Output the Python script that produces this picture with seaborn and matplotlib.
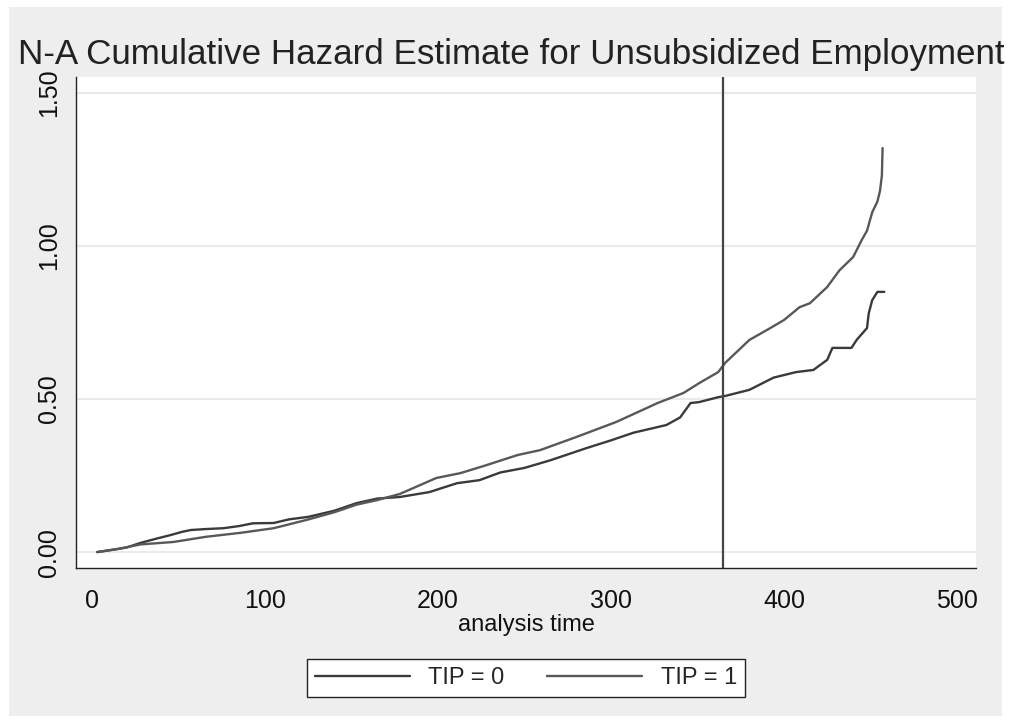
import numpy as np
import pandas as pd
import seaborn as sns
import matplotlib.pyplot as plt
from matplotlib.patches import Rectangle

# values
tip0_time = [3, 10, 20, 28, 38, 45, 52, 57, 65, 76, 85, 93, 105, 114, 125, 140, 153,
             165, 178, 195, 211, 224, 236, 250, 265, 286, 300, 313, 332, 340, 346, 351,
             362, 366, 380, 394, 407, 417, 425, 428, 439, 442, 448, 449, 451, 454, 458]
tip0_haz = [0.0, 0.006, 0.015, 0.03, 0.045, 0.055, 0.066, 0.072, 0.075, 0.078, 0.085, 0.094,
            0.095, 0.107, 0.115, 0.135, 0.16, 0.175, 0.18, 0.196, 0.225, 0.235, 0.26, 0.275,
            0.30, 0.34, 0.365, 0.39, 0.415, 0.44, 0.487, 0.49, 0.506, 0.51, 0.53, 0.57, 0.588,
            0.595, 0.628, 0.667, 0.667, 0.693, 0.732, 0.78, 0.823, 0.85, 0.85]

tip1_time = [3, 15, 28, 47, 66, 86, 105, 124, 140, 153, 165, 178, 199, 213, 228, 246,
             259, 280, 303, 327, 342, 351, 362, 366, 380, 390, 400, 409, 415, 425, 432,
             440, 445, 448, 451, 454, 455.5, 456.6, 457]
tip1_haz = [0.0, 0.01, 0.025, 0.033, 0.05, 0.063, 0.078, 0.105, 0.13, 0.155, 0.17, 0.19,
            0.242, 0.258, 0.284, 0.317, 0.333, 0.376, 0.425, 0.487, 0.52, 0.552, 0.588,
            0.618, 0.693, 0.725, 0.758, 0.80, 0.813, 0.866, 0.92, 0.964, 1.02, 1.05, 1.11,
            1.145, 1.18, 1.23, 1.32]

y_ticks = [0, 0.5, 1.0, 1.5]
y_labels = ["0.00", "0.50", "1.00", "1.50"]
x_ticks = [0, 100, 200, 300, 400, 500]

df = pd.concat([
    pd.DataFrame({"time": tip0_time, "haz": tip0_haz, "group": "TIP = 0"}),
    pd.DataFrame({"time": tip1_time, "haz": tip1_haz, "group": "TIP = 1"}),
])

sns.set_style("white")
plt.rcParams["font.family"] = ["Liberation Sans", "DejaVu Sans"]

fig = plt.figure(figsize=(10.25, 7.23), dpi=100)
fig.patch.set_facecolor("white")
# light gray graph region like stata, kept behind the axes
fig.patches.append(Rectangle((9 / 1025, 1 - 716 / 723), 993 / 1025, 709 / 723,
                             transform=fig.transFigure, facecolor="#eeeeee",
                             edgecolor="none", zorder=-10))

ax = fig.add_axes([76 / 1025, 1 - 568 / 723, 900 / 1025, 491 / 723])
ax.set_facecolor("white")

sns.lineplot(data=df, x="time", y="haz", hue="group",
             palette={"TIP = 0": "#3a3a3a", "TIP = 1": "#585858"},
             linewidth=1.7, ax=ax, legend=False, sort=False)

ax.axvline(365, color="#444444", linewidth=1.6)

ax.set_xlim(-9.25, 511)
ax.set_ylim(-0.052, 1.552)
ax.set_xticks(x_ticks)
ax.set_yticks(y_ticks)
ax.set_yticklabels(y_labels, rotation=90, va="center")
ax.tick_params(axis="both", direction="out", length=7, width=1, color="#333333",
               labelsize=18, labelcolor="#111111", pad=4)
ax.tick_params(axis="x", pad=8)
ax.yaxis.grid(True, color="#eaeaea", linewidth=1.5)
ax.set_axisbelow(True)

for s in ["top", "right"]:
    ax.spines[s].set_visible(False)
for s in ["left", "bottom"]:
    ax.spines[s].set_color("#222222")
    ax.spines[s].set_linewidth(1)

ax.set_xlabel("analysis time", fontsize=17, color="#111111", labelpad=1)
ax.set_ylabel("")

fig.text(18 / 1025, 1 - 64 / 723, "N-A Cumulative Hazard Estimate for Unsubsidized Employment",
         fontsize=25.2, color="#222222", ha="left", va="baseline")

handles = [plt.Line2D([], [], color="#3a3a3a", lw=1.7),
           plt.Line2D([], [], color="#585858", lw=1.7)]
leg = fig.legend(handles, ["TIP = 0", "TIP = 1"], ncol=2, loc="upper center",
                 bbox_to_anchor=(526 / 1025, 1 - 647 / 723), fontsize=17,
                 frameon=True, fancybox=False, handlelength=4.0, columnspacing=1.8,
                 handletextpad=0.8, borderpad=0.35)
leg.get_frame().set_edgecolor("#222222")
leg.get_frame().set_linewidth(1)
leg.get_frame().set_facecolor("white")
leg.get_frame().set_alpha(1)

fig.savefig("out.png", dpi=100)
